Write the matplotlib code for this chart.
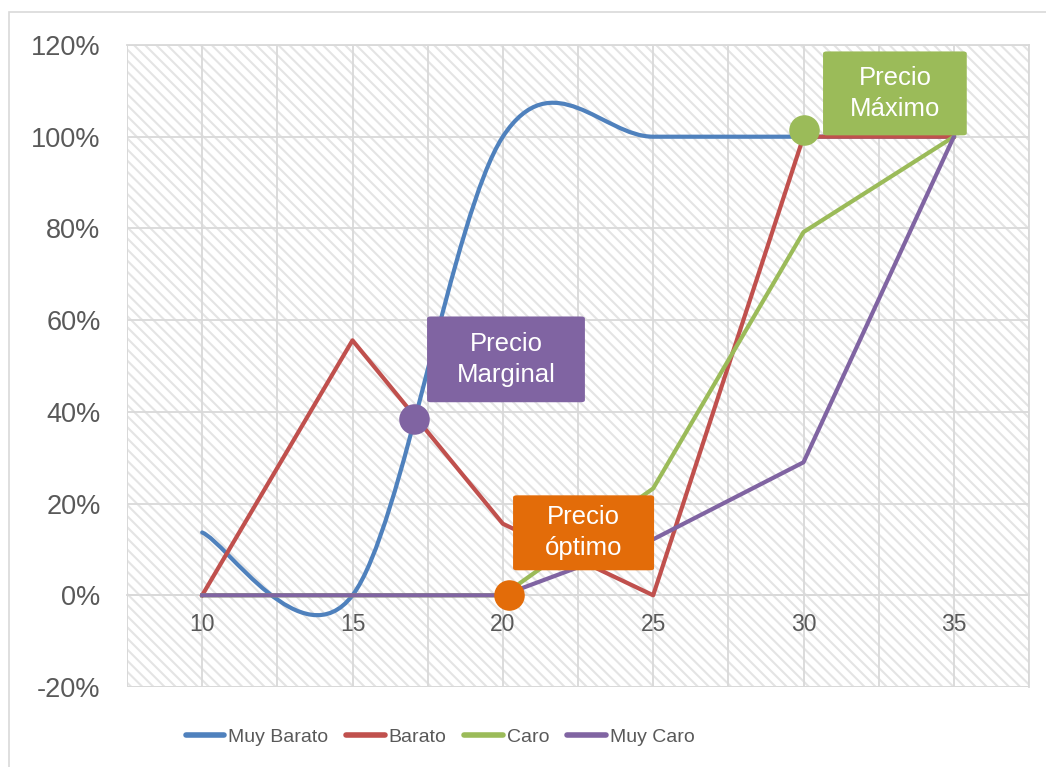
import numpy as np
import matplotlib.pyplot as plt
from matplotlib.path import Path
from matplotlib.patches import PathPatch, Rectangle, FancyBboxPatch
from matplotlib.lines import Line2D
from matplotlib.ticker import FuncFormatter, MultipleLocator

plt.rcParams['font.family'] = ['Liberation Sans', 'DejaVu Sans']
plt.rcParams['hatch.linewidth'] = 1.5

# -------------------------
# 数据
# -------------------------
precio = [10, 15, 20, 25, 30, 35]
muy_barato = [13.7, 0, 100, 100, 100, 100]
barato = [0, 55.6, 15.6, 0, 100, 100]
caro = [0, 0, 0, 23.3, 79.2, 100]
muy_caro = [0, 0, 0, 12.2, 29.0, 100]

series_names = ["Muy Barato", "Barato", "Caro", "Muy Caro"]
series_colors = ["#4F81BD", "#C0504D", "#9BBB59", "#8064A2"]

puntos_nombre = ["Precio\nMarginal", "Precio\nóptimo", "Precio\nMáximo"]
puntos_x = [17.05, 20.2, 30.0]
puntos_y = [38.4, 0.0, 101.4]
puntos_color = ["#8064A2", "#E36C09", "#9BBB59"]
# posición de las cajas (x0, y0, x1, y1 en datos)
cajas = [(17.48, 42.1, 22.73, 60.8),
         (20.34, 5.45, 25.03, 21.8),
         (30.65, 100.3, 35.43, 118.6)]

y_ticks = [-20, 0, 20, 40, 60, 80, 100, 120]
x_ticks = [10, 15, 20, 25, 30, 35]


def smooth_path(xs, ys):
    """Excel 风格平滑曲线 (Catmull-Rom -> Bezier)"""
    pts = np.column_stack([xs, ys]).astype(float)
    n = len(pts)
    verts = [pts[0]]
    codes = [Path.MOVETO]
    for i in range(n - 1):
        p0 = pts[i - 1] if i > 0 else pts[i]
        p1 = pts[i]
        p2 = pts[i + 1]
        p3 = pts[i + 2] if i + 2 < n else pts[i + 1]
        c1 = p1 + (p2 - p0) / 6.0
        c2 = p2 - (p3 - p1) / 6.0
        verts += [c1, c2, p2]
        codes += [Path.CURVE4] * 3
    return Path(verts, codes)


fig = plt.figure(figsize=(10.46, 7.67), dpi=100)
ax = fig.add_axes([127 / 1046, 1 - 687 / 767, 902 / 1046, 642 / 767])

# 外框
fig.patches.append(Rectangle((9 / 1046, -0.1), 1.2, 1.1 - 12 / 767,
                             transform=fig.transFigure, fill=False,
                             edgecolor="#d9d9d9", linewidth=1.2))

# 背景斜线
ax.patch.set_facecolor("white")
ax.add_patch(Rectangle((0, 0), 1, 1, transform=ax.transAxes,
                       facecolor="white", edgecolor="#e4e4e4",
                       hatch="\\\\\\", linewidth=0, zorder=0))

ax.set_xlim(7.5, 37.5)
ax.set_ylim(-20, 120)
ax.set_axisbelow(True)

ax.xaxis.set_minor_locator(MultipleLocator(2.5))
ax.set_xticks(x_ticks)
ax.set_yticks(y_ticks)
ax.yaxis.set_major_formatter(FuncFormatter(lambda v, p: f"{v:.0f}%"))

ax.grid(True, which="both", color="#d9d9d9", linewidth=1.3)

ax.spines["bottom"].set_position(("data", 0))
for s in ax.spines.values():
    s.set_color("#d9d9d9")
    s.set_linewidth(1.3)
ax.spines["left"].set_visible(False)

ax.tick_params(axis="both", which="both", length=0)
ax.tick_params(axis="y", labelsize=19.5, colors="#595959", pad=19)
ax.tick_params(axis="x", labelsize=16.5, colors="#595959", pad=13)

# 边框 (网格外框)
ax.add_patch(Rectangle((0, 0), 1, 1, transform=ax.transAxes, fill=False,
                       edgecolor="#d9d9d9", linewidth=1.3, zorder=1))

# =====================
# 曲线
# =====================
lw = 3.0
ax.add_patch(PathPatch(smooth_path(precio, muy_barato), fill=False,
                       edgecolor=series_colors[0], linewidth=lw,
                       capstyle="round", zorder=3))
ax.plot(precio, barato, color=series_colors[1], linewidth=lw, zorder=3)
ax.plot(precio, caro, color=series_colors[2], linewidth=lw, zorder=3)
ax.plot(precio, muy_caro, color=series_colors[3], linewidth=lw, zorder=3)

# =====================
# 标记点与标签
# =====================
for (x, y, c) in zip(puntos_x, puntos_y, puntos_color):
    ax.plot(x, y, "o", markersize=22, color=c, markeredgewidth=0,
            zorder=5, clip_on=False)

for (nombre, c, (x0, y0, x1, y1)) in zip(puntos_nombre, puntos_color, cajas):
    ax.add_patch(FancyBboxPatch((x0, y0), x1 - x0, y1 - y0,
                                boxstyle="round,pad=0,rounding_size=0.12",
                                facecolor=c, edgecolor="none", zorder=6,
                                mutation_aspect=4))
    ax.text((x0 + x1) / 2, (y0 + y1) / 2, nombre, ha="center", va="center",
            color="white", fontsize=18.5, linespacing=1.35, zorder=7)

# =====================
# 图例
# =====================
handles = [Line2D([0], [0], color=c, linewidth=4, solid_capstyle="round")
           for c in series_colors]
fig.legend(handles, series_names, loc="center",
           bbox_to_anchor=(440 / 1046, 1 - 737 / 767), ncol=4,
           frameon=False, fontsize=14, handlelength=2.0,
           handletextpad=0.2, columnspacing=0.9,
           labelcolor="#595959")

fig.savefig("out.png", dpi=100)
